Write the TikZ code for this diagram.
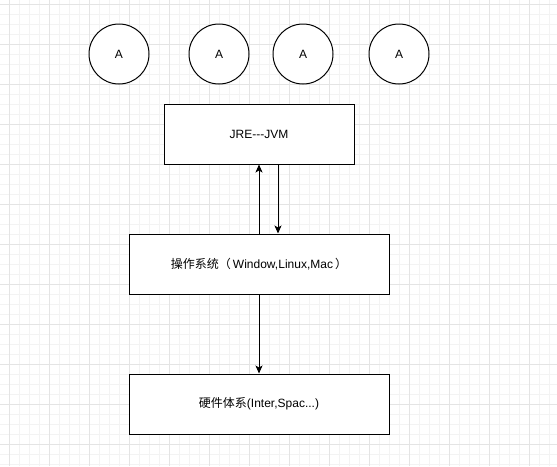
\documentclass[tikz,border=0pt]{standalone}
\usepackage{fontspec}
\setmainfont{Liberation Sans}[Ligatures=NoCommon]
\newfontfamily\cjk{Noto Sans CJK SC}
\usetikzlibrary{arrows.meta}
\definecolor{gridminor}{HTML}{F3F3F3}
\definecolor{gridmajor}{HTML}{E4E4E4}
\tikzset{
  box/.style={draw=black, line width=1pt, fill=white, minimum width=260pt, minimum height=60pt, inner sep=0pt, font=\fontsize{12}{14}\selectfont},
  circ/.style={draw=black, line width=1pt, fill=white, circle, minimum size=60pt, inner sep=0pt, font=\fontsize{12}{14}\selectfont},
  arr/.style={draw=black, line width=1pt, -{Stealth[length=8pt,width=7pt,inset=2pt]}}
}
\begin{document}
\begin{tikzpicture}[x=1pt,y=-1pt]
\useasboundingbox (0,0) rectangle (557,466);
\fill[white] (0,0) rectangle (557,466);
\foreach \x in {9,19,...,557} \draw[gridminor, line width=0.8pt] (\x,0) -- (\x,466);
\foreach \y in {4,14,...,466} \draw[gridminor, line width=0.8pt] (0,\y) -- (557,\y);
\foreach \x in {9,49,...,557} \draw[gridmajor, line width=0.8pt] (\x,0) -- (\x,466);
\foreach \y in {4,44,...,466} \draw[gridmajor, line width=0.8pt] (0,\y) -- (557,\y);

\node[circ] (a1) at (119,54) {A};
\node[circ] (a2) at (219,54) {A};
\node[circ] (a3) at (303,54) {A};
\node[circ] (a4) at (399,54) {A};

\node[box, minimum width=190pt] (jre) at (259,134) {JRE-{}-{}-JVM};
\node[box] (os) at (259,264) {{\cjk 操作系统（}\,Window,Linux,Mac\,{\cjk ）}};
\node[box] (hw) at (259,404) {{\cjk 硬件体系}(Inter,Spac...)};

\draw[arr] (os.north) -- (jre.south);
\draw[arr] ([xshift=19pt]jre.south) -- ([xshift=19pt]os.north);
\draw[arr] (os.south) -- (hw.north);
\end{tikzpicture}
\end{document}
